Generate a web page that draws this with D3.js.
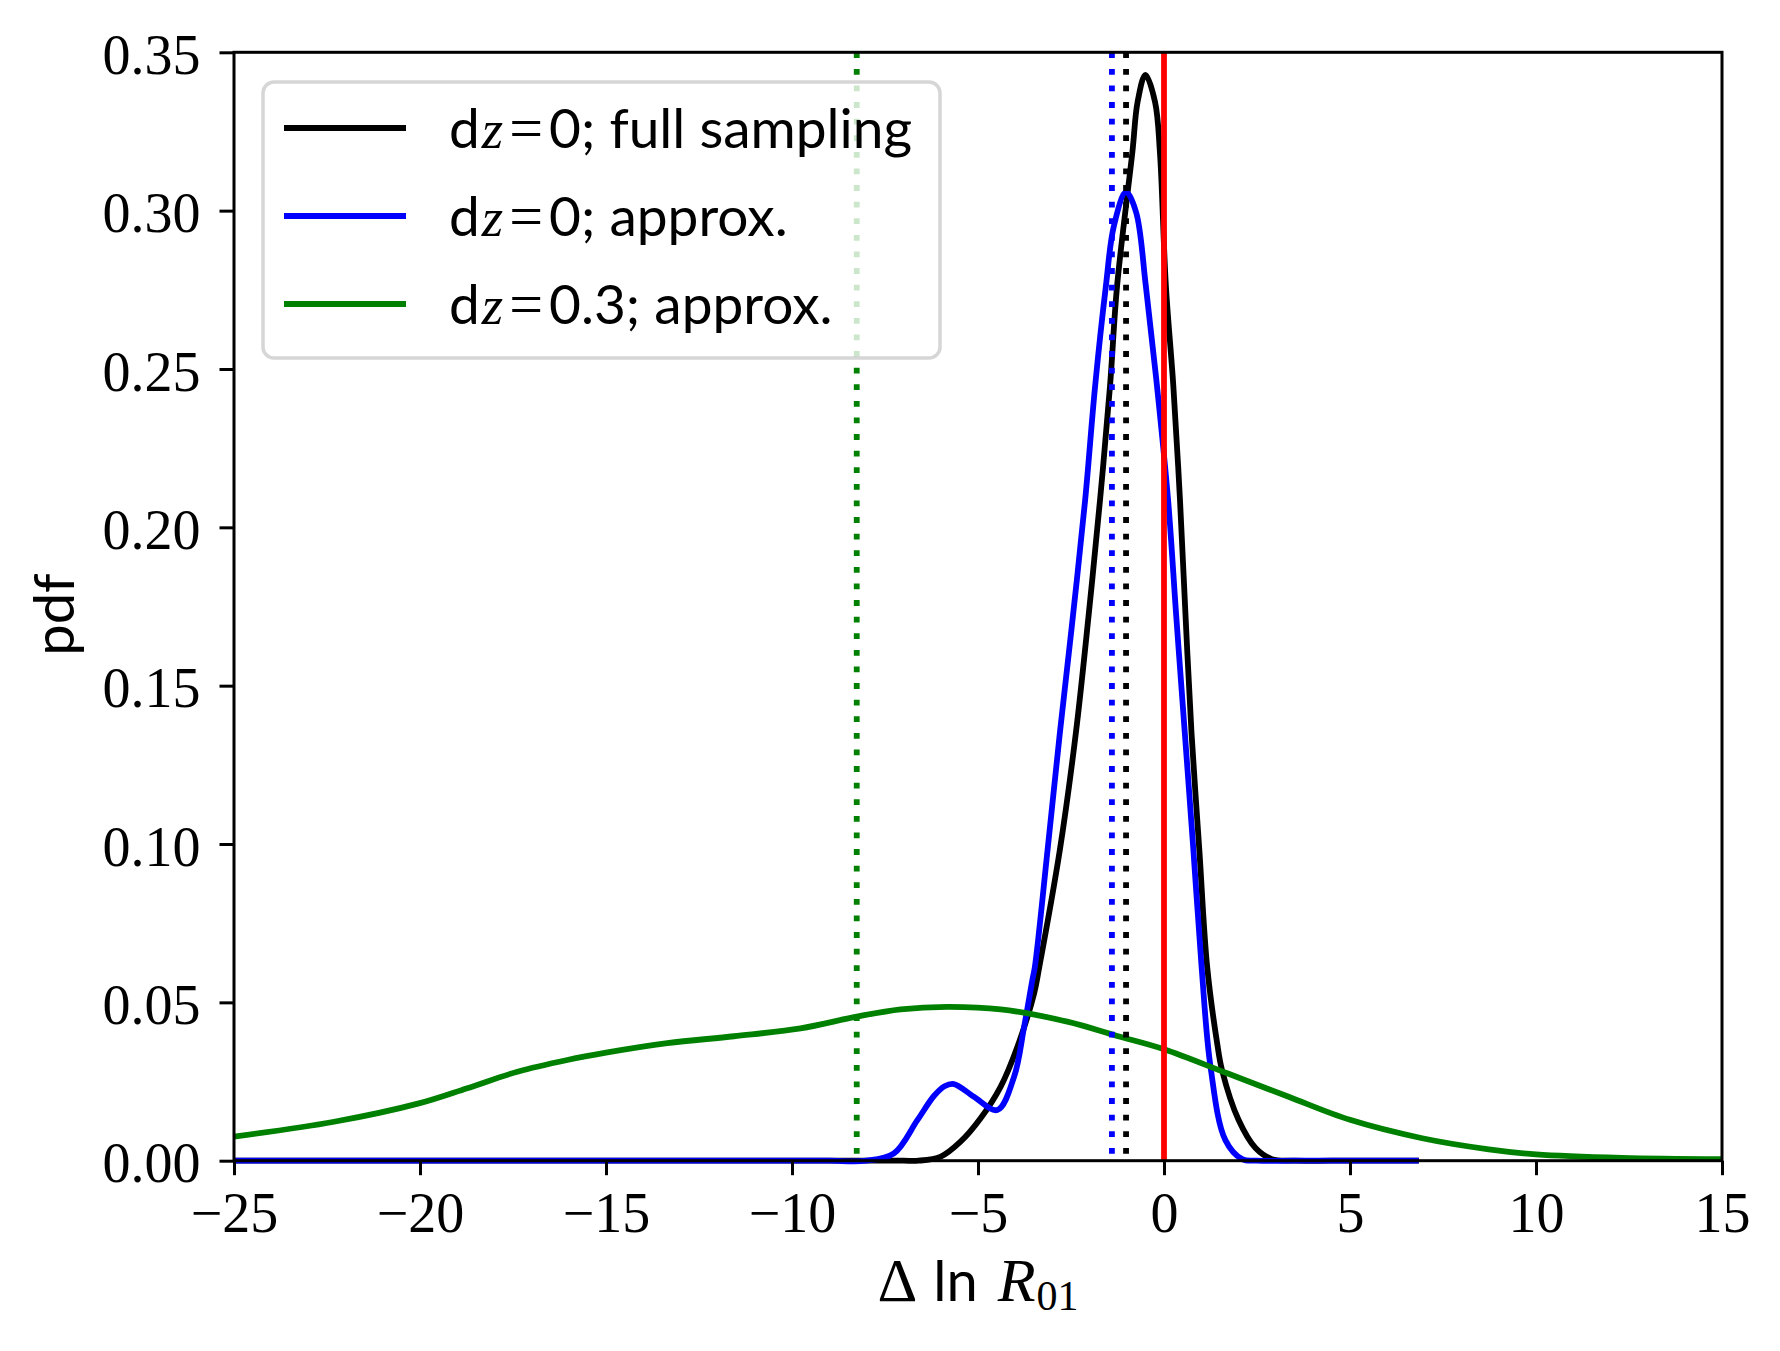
<!DOCTYPE html>
<html>
<head>
<meta charset="utf-8">
<script src="https://cdn.jsdelivr.net/npm/d3@7"></script>
<style>
  body { margin: 0; background: #fff; }
  svg { display: block; }
</style>
</head>
<body>
<script>
///////////////////////////
// DATA
var xTicks = [-25, -20, -15, -10, -5, 0, 5, 10, 15];
var yTicks = [0, 0.05, 0.10, 0.15, 0.20, 0.25, 0.30, 0.35];

// dz=0; full sampling
var fullX = [-25, -20, -15, -10, -8, -7, -6.6, -6.0, -5.47, -4.93, -4.39, -3.94, -3.49, -3.35, -2.80, -2.37, -2.03, -1.72, -1.45, -1.26, -0.85, -0.71, -0.50, -0.24, -0.11, 0.05, 0.25, 0.43, 0.58, 0.74, 0.95, 1.16, 1.43, 1.56, 2.0, 2.46, 2.9, 3.5, 4.5, 5.5, 6.85];
var fullY = [0, 0, 0, 0, 0, 0, 0, 0.0013, 0.006, 0.0134, 0.0234, 0.036, 0.0529, 0.0613, 0.0981, 0.135, 0.1718, 0.2086, 0.2448, 0.2764, 0.3185, 0.3343, 0.3429, 0.3343, 0.3185, 0.2764, 0.2448, 0.2086, 0.1718, 0.135, 0.0981, 0.0613, 0.037, 0.0286, 0.013, 0.004, 0.0005, 0, 0, 0, 0];

// dz=0; approx.
var apprX = [-25, -20, -15, -12, -10, -9, -8.0, -7.26, -6.63, -6.18, -5.9, -5.65, -5.11, -4.48, -4.03, -3.76, -3.54, -3.47, -3.13, -2.80, -2.45, -2.12, -1.85, -1.56, -1.35, -1.02, -0.75, -0.49, -0.19, 0.11, 0.33, 0.56, 0.79, 1.01, 1.25, 1.65, 2.1, 2.5, 3.5, 4.5, 5.5, 6.85];
var apprY = [0, 0, 0, 0, 0, 0, 0, 0.0023, 0.0128, 0.0205, 0.0235, 0.0242, 0.0202, 0.016, 0.0265, 0.0423, 0.057, 0.0613, 0.0981, 0.135, 0.1718, 0.2086, 0.2448, 0.2764, 0.2950, 0.3059, 0.2995, 0.2764, 0.2448, 0.2086, 0.1718, 0.135, 0.0981, 0.0613, 0.0297, 0.0065, 0.0005, 0, 0, 0, 0, 0];

// dz=0.3; approx.
var shiftX = [-25, -22.31, -20.03, -18.73, -17.38, -16.04, -15, -13.35, -11.56, -9.77, -8.26, -7.08, -5.83, -4.39, -2.60, -1.26, 0, 1.7, 3.35, 5, 6.94, 8.73, 10, 12.31, 15];
var shiftY = [0.0076, 0.0123, 0.0181, 0.0229, 0.0281, 0.0318, 0.0341, 0.0371, 0.0393, 0.0418, 0.0455, 0.0478, 0.0486, 0.0478, 0.0439, 0.0394, 0.0352, 0.0276, 0.0202, 0.0129, 0.0071, 0.0036, 0.002, 0.0009, 0.0005];

// vertical markers
var markerX = [-1.02, -1.40, -8.26];
var truthX = 0;

var seriesNames = ["full sampling", "approx.", "approx."];
var seriesDz = ["0", "0", "0.3"];
var seriesColors = ["#000000", "#0000ff", "#008000"];

///////////////////////////
// CONSTRUCT SVG
var W = 1780, H = 1351;
var margin = {top: 52.3, right: 58, bottom: 190.3, left: 234},
  width = W - margin.left - margin.right,
  height = H - margin.top - margin.bottom;

var serif = "'Liberation Serif', 'DejaVu Serif', serif";
var sans = "Lato, 'Open Sans', sans-serif";

var svg = d3.select("body")
  .append("svg")
  .attr("width", W)
  .attr("height", H)
  .append("g")
  .attr("transform", "translate(" + margin.left + "," + margin.top + ")");

var x = d3.scaleLinear().domain([-25, 15]).range([0, width]);
var y = d3.scaleLinear().domain([0, 0.35]).range([height, 0]);

///////////////////////////
// CURVES
var line = d3.line()
  .x(function(d){ return x(d[0]); })
  .y(function(d){ return y(d[1]); })
  .curve(d3.curveCatmullRom.alpha(0.5));

var curves = [d3.zip(fullX, fullY), d3.zip(apprX, apprY), d3.zip(shiftX, shiftY)];

svg.append("g")
  .selectAll("path")
  .data(curves)
  .enter()
  .append("path")
  .attr("d", line)
  .attr("fill", "none")
  .attr("stroke", function(d, i){ return seriesColors[i]; })
  .attr("stroke-width", 5.8)
  .attr("stroke-linejoin", "round");

// dotted means
svg.append("g")
  .selectAll("line")
  .data(markerX)
  .enter()
  .append("line")
  .attr("x1", function(d){ return x(d); })
  .attr("x2", function(d){ return x(d); })
  .attr("y1", 0)
  .attr("y2", height)
  .attr("stroke", function(d, i){ return seriesColors[i]; })
  .attr("stroke-width", 5.8)
  .attr("stroke-dasharray", "5.8,10.8");

svg.append("line")
  .attr("x1", x(truthX)).attr("x2", x(truthX))
  .attr("y1", 0).attr("y2", height)
  .attr("stroke", "#ff0000")
  .attr("stroke-width", 5.8);

///////////////////////////
// AXES
var fmtX = function(d){ return d < 0 ? "\u2212" + Math.abs(d) : String(d); };

var xAxis = svg.append("g")
  .attr("transform", "translate(0," + height + ")")
  .call(d3.axisBottom(x).tickValues(xTicks).tickFormat(fmtX).tickSize(14.5).tickSizeOuter(0).tickPadding(18));

var yAxis = svg.append("g")
  .call(d3.axisLeft(y).tickValues(yTicks).tickFormat(d3.format(".2f")).tickSize(14.5).tickSizeOuter(0).tickPadding(19));

[xAxis, yAxis].forEach(function(a){
  a.select(".domain").remove();
  a.selectAll(".tick line").attr("stroke", "#000").attr("stroke-width", 3);
  a.selectAll(".tick text")
    .attr("fill", "#000")
    .style("font-family", serif)
    .style("font-size", "56px");
});
xAxis.selectAll(".tick text").attr("dy", "0.71em").attr("y", 32);
yAxis.selectAll(".tick text").attr("dy", "0.38em");

// frame
svg.append("rect")
  .attr("x", 0).attr("y", 0)
  .attr("width", width).attr("height", height)
  .attr("fill", "none")
  .attr("stroke", "#000")
  .attr("stroke-width", 3);

// axis labels
svg.append("text")
  .attr("transform", "translate(" + (-160) + "," + (height / 2 + 8) + ") rotate(-90)")
  .attr("text-anchor", "middle")
  .style("font-family", sans)
  .style("font-size", "56px")
  .text("pdf");

var xl = svg.append("text")
  .attr("x", width / 2)
  .attr("y", height + 140)
  .attr("text-anchor", "middle")
  .style("font-size", "56px");
xl.append("tspan").style("font-family", serif).style("font-size", "62px").text("\u0394");
xl.append("tspan").style("font-family", sans).attr("dx", 16).text("ln");
xl.append("tspan").style("font-family", serif).style("font-style", "italic").style("font-size", "62px").attr("dx", 20).text("R");
xl.append("tspan").style("font-family", serif).style("font-size", "42px").attr("dx", 1).attr("dy", 9).text("01");

///////////////////////////
// LEGEND
var legend = svg.append("g")
  .attr("transform", "translate(" + (263 - margin.left) + "," + (82 - margin.top) + ")");

legend.append("rect")
  .attr("width", 677)
  .attr("height", 276)
  .attr("rx", 11)
  .attr("fill", "#fff")
  .attr("fill-opacity", 0.8)
  .attr("stroke", "#cccccc")
  .attr("stroke-opacity", 0.8)
  .attr("stroke-width", 3.5);

var rows = legend.selectAll("g.row")
  .data(seriesColors)
  .enter()
  .append("g")
  .attr("class", "row")
  .attr("transform", function(d, i){ return "translate(0," + (46 + i * 88) + ")"; });

rows.append("line")
  .attr("x1", 21).attr("x2", 143)
  .attr("y1", 0).attr("y2", 0)
  .attr("stroke", function(d){ return d; })
  .attr("stroke-width", 5.8);

var lbl = rows.append("text")
  .attr("x", 186)
  .attr("y", 20)
  .style("font-size", "55px");
lbl.append("tspan").style("font-family", sans).text("d");
lbl.append("tspan").style("font-family", serif).style("font-style", "italic").attr("dx", 2).text("z");
lbl.append("tspan").style("font-family", serif).style("font-size", "60px").attr("dx", 6).text("=");
lbl.append("tspan").style("font-family", sans).attr("dx", 6)
  .text(function(d, i){ return seriesDz[i] + "; " + seriesNames[i]; });
</script>
</body>
</html>
